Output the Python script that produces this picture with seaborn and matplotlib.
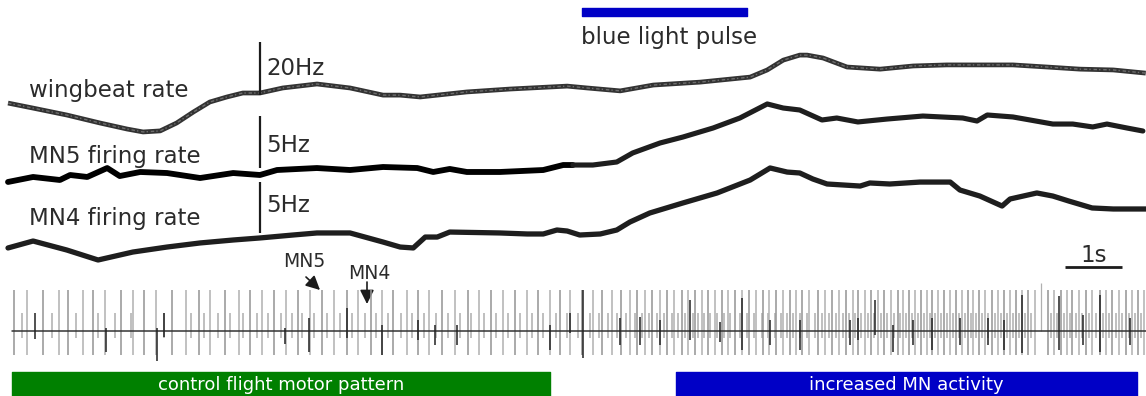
import numpy as np
import pandas as pd
import matplotlib
matplotlib.use("Agg")
import matplotlib.pyplot as plt
import seaborn as sns

# ---------------------------------------------------------------- data
# Instantaneous rates (time in s, rate in Hz)
wing_t = [-0.07, 0.37, 0.96, 1.54, 2.02, 2.30, 2.60, 2.89, 3.18, 3.47, 3.77, 4.05,
          4.35, 4.75, 5.35, 5.93, 6.51, 6.81, 7.16, 7.98, 8.74, 9.74, 10.09, 10.67,
          11.25, 12.07, 12.95, 13.25, 13.53, 13.82, 13.95, 14.23, 14.65, 15.23,
          15.81, 16.40, 17.56, 18.16, 18.74, 19.32, 19.89]
wing_hz = [196.2, 194.3, 191.7, 188.7, 186.4, 185.3, 185.7, 188.7, 192.8, 196.6,
           198.5, 200.0, 200.0, 201.9, 203.4, 201.9, 199.2, 199.2, 198.5, 200.4,
           201.5, 202.6, 201.9, 200.8, 203.0, 204.1, 206.0, 208.7, 212.4, 214.3,
           214.3, 213.2, 209.8, 209.0, 210.2, 210.6, 210.6, 209.8, 209.0, 208.7, 207.5]

mn5_t = [-0.07, 0.37, 0.84, 1.02, 1.32, 1.67, 1.89, 2.25, 2.72, 3.30, 3.88, 4.35,
         4.65, 5.35, 5.93, 6.51, 7.11, 7.39, 7.68, 7.98, 8.56, 9.32, 9.67, 9.84,
         10.19, 10.61, 10.89, 11.37, 11.77, 12.30, 12.77, 13.25, 13.53, 13.82,
         14.21, 14.47, 14.84, 15.35, 15.98, 16.68, 16.93, 17.11, 17.56, 17.86,
         18.26, 18.61, 18.96, 19.21, 19.56, 19.84]
mn5_hz = [4.33, 4.81, 4.52, 5.00, 4.81, 5.67, 4.90, 5.29, 5.19, 4.71, 5.19, 5.00,
          5.48, 5.67, 5.48, 5.77, 5.67, 5.29, 5.58, 5.29, 5.29, 5.48, 5.96, 5.96,
          5.96, 6.25, 7.12, 8.08, 8.65, 9.52, 10.48, 11.83, 11.44, 11.25,
          10.29, 10.48, 10.10, 10.38, 10.67, 10.48, 10.19, 10.77, 10.58, 10.29,
          9.90, 9.90, 9.62, 9.90, 9.52, 9.23]

mn4_t = [-0.07, 0.37, 0.96, 1.51, 2.12, 2.72, 3.30, 3.88, 4.35, 4.93, 5.35, 5.93,
         6.51, 6.81, 7.04, 7.25, 7.46, 7.68, 8.56, 9.04, 9.32, 9.56, 9.74, 9.96,
         10.32, 10.61, 10.84, 11.19, 11.77, 12.37, 12.95, 13.30, 13.60, 13.82,
         14.05, 14.30, 14.88, 15.05, 15.40, 15.93, 16.46, 16.63, 16.98, 17.37,
         17.51, 17.98, 18.26, 18.54, 18.95, 19.32, 19.89]
mn4_hz = [3.22, 3.90, 3.02, 2.04, 2.82, 3.31, 3.71, 4.00, 4.20, 4.49, 4.69, 4.69,
          3.80, 3.31, 3.22, 4.29, 4.29, 4.78, 4.69, 4.59, 4.59, 4.98, 4.88, 4.49,
          4.59, 4.98, 5.76, 6.65, 7.63, 8.61, 9.88, 11.06, 10.66, 10.57,
          9.98, 9.49, 9.29, 9.59, 9.49, 9.68, 9.68, 8.90, 8.31, 7.33,
          8.02, 8.61, 8.31, 7.82, 7.14, 7.04, 7.04]

# Extracellular recording: spike times (s) of the large units
large_spikes = [0.04, 0.26, 0.54, 0.82, 0.98, 1.25, 1.42, 1.63, 1.91, 2.12, 2.32,
                2.53, 2.81, 3.05, 3.28, 3.47, 3.74, 3.98, 4.18, 4.39, 4.60, 4.81,
                5.02, 5.23, 5.44, 5.65, 5.88, 6.07, 6.30, 6.49, 6.68, 6.93, 7.12,
                7.32, 7.54, 7.77, 8.00, 8.19, 8.40, 8.61, 8.82, 9.04, 9.23, 9.44,
                9.61, 9.79, 10.00, 10.19, 10.35, 10.53, 10.68, 10.84, 10.96, 11.11,
                11.23, 11.37, 11.49, 11.61, 11.75, 11.86, 11.98, 12.11, 12.21, 12.33,
                12.46, 12.56, 12.68, 12.81, 12.93, 13.05, 13.18, 13.28, 13.40, 13.53,
                13.65, 13.75, 13.86, 13.98, 14.14, 14.26, 14.39, 14.51, 14.63, 14.75,
                14.84, 14.96, 15.07, 15.19, 15.30, 15.42, 15.54, 15.63, 15.74, 15.84,
                15.95, 16.05, 16.14, 16.25, 16.35, 16.46, 16.56, 16.67, 16.77, 16.86,
                16.96, 17.07, 17.19, 17.30, 17.40, 17.51, 17.61, 17.72, 17.82, 17.95,
                18.18, 18.28, 18.40, 18.51, 18.60, 18.72, 18.84, 18.95, 19.09, 19.19,
                19.30, 19.42, 19.54, 19.65, 19.75, 19.86]
# small units
small_spikes = [0.18, 0.70, 1.12, 1.51, 1.81, 2.09, 2.67, 3.14, 3.37, 3.61, 3.82,
                4.05, 4.30, 4.49, 4.72, 4.91, 5.09, 5.30, 5.53, 5.75, 5.96, 6.19,
                6.39, 6.60, 6.82, 7.02, 7.23, 7.44, 7.65, 7.86, 8.05, 8.28, 8.49,
                8.70, 8.91, 9.12, 9.32, 9.54, 9.74, 9.93, 10.14, 10.30, 10.46, 10.61,
                10.77, 10.93, 11.05, 11.18, 11.32, 11.44, 11.58, 11.68, 11.81, 11.95,
                12.04, 12.14, 12.25, 12.37, 12.49, 12.60, 12.77, 12.89, 13.02, 13.16,
                13.26, 13.39, 13.49, 13.60, 13.70, 13.82, 13.95, 14.09, 14.21, 14.33,
                14.46, 14.58, 14.68, 14.79, 14.89, 15.02, 15.12, 15.25, 15.35, 15.47,
                15.58, 15.68, 15.79, 15.89, 16.00, 16.11, 16.19, 16.30, 16.40, 16.51,
                16.61, 16.72, 16.82, 16.91, 17.02, 17.12, 17.25, 17.35, 17.46, 17.56,
                17.67, 17.77, 17.88, 18.23, 18.33, 18.46, 18.56, 18.67, 18.77, 18.89,
                19.02, 19.14, 19.25, 19.37, 19.47, 19.60, 19.70, 19.81]
# single artefact transient
artefact_t = [18.05]
artefact_amp = [4.8]

# motor neuron spikes: time (s), positive and negative peak (a.u.)
mn_t = [0.40, 1.65, 2.54, 2.67, 4.79, 5.21, 5.88, 6.49, 7.12, 7.42, 7.81, 9.44,
        9.79, 10.02, 10.67, 11.02, 11.37, 11.89, 12.42, 12.81, 13.30, 13.82,
        14.70, 14.84, 15.14, 15.46, 15.81, 16.14, 16.63, 17.12, 17.40, 17.72,
        18.37, 18.79, 19.09, 19.61]
mn_up = [1.8, 0.3, 0.3, 1.8, 0.3, 1.3, 2.3, 0.6, 1.1, 0.6, 0.6, 0.6,
         1.8, 4.1, 1.3, 1.4, 1.1, 3.1, 0.9, 3.3, 1.1, 1.1,
         1.1, 1.3, 3.1, 0.6, 1.1, 1.3, 1.3, 1.3, 1.1, 3.6,
         3.5, 1.6, 3.6, 1.3]
mn_down = [-0.8, -2.1, -3.0, -0.6, -1.3, -2.1, -0.7, -2.4, -0.9, -1.4, -1.4, -1.9,
           -0.2, -2.7, -1.4, -1.4, -1.4, -0.9, -1.1, -1.9, -1.4, -1.9,
           -1.4, -0.9, -0.4, -2.1, -1.4, -1.9, -1.4, -1.4, -1.9, -2.2,
           -1.9, -1.4, -2.1, -1.4]

large_amp = (4.1, -2.4)
small_amp = (1.8, -0.7)
trace_span = (0.0, 19.9)

# Epochs (s)
light_pulse = (10.0, 12.9)
epochs = [("control flight motor pattern", 0.0, 9.44, "#008000"),
          ("increased MN activity", 11.65, 19.74, "#0000c6")]

# Calibration bars
cal_t = 4.35
wing_cal = (199.2, 219.2)   # 20 Hz
mn5_cal = (5.7, 10.7)       # 5 Hz
mn4_cal = (4.7, 9.7)        # 5 Hz
time_cal = (18.47, 19.47)   # 1 s

# ---------------------------------------------------------------- figure
sns.set_theme(style="white")
plt.rcParams["font.family"] = ["DejaVu Sans"]

W, H = 1146, 396
PX_PER_S = 57.0
X_ORIGIN = 12.0
fig = plt.figure(figsize=(W / 100, H / 100), dpi=100)
fig.patch.set_facecolor("white")

base = fig.add_axes([0, 0, 1, 1])
base.set_xlim(-X_ORIGIN / PX_PER_S, (W - X_ORIGIN) / PX_PER_S)
base.set_ylim(H, 0)
base.axis("off")


def overlay(ref_val, ref_row, rows_per_unit):
    """Transparent axis sharing time, with its own vertical scale."""
    ax = fig.add_axes([0, 0, 1, 1], sharex=base)
    ax.set_ylim(ref_val - (H - ref_row) / rows_per_unit,
                ref_val + ref_row / rows_per_unit)
    ax.axis("off")
    ax.patch.set_alpha(0)
    return ax


TXT = "#2b2b2b"
INK = "#1c1c1c"

# --- wingbeat rate
ax_w = overlay(200.0, 93, 53 / 20)
dw = pd.DataFrame({"t": wing_t, "hz": wing_hz})
sns.lineplot(data=dw, x="t", y="hz", ax=ax_w, color="#333333", linewidth=3.4,
             sort=False, estimator=None, solid_capstyle="butt")
sns.lineplot(data=dw, x="t", y="hz", ax=ax_w, color="#6e6e6e", linewidth=1.0,
             sort=False, estimator=None)
ax_w.lines[-1].set_dashes([2.5, 1.5, 1, 2])
ax_w.plot([cal_t, cal_t], wing_cal, color=INK, lw=1.6, solid_capstyle="butt")

# --- MN5 firing rate
ax5 = overlay(5.0, 175, 52 / 5)
d5 = pd.DataFrame({"t": mn5_t, "hz": mn5_hz})
split5 = 24
sns.lineplot(data=d5.iloc[:split5], x="t", y="hz", ax=ax5, color="#000000",
             linewidth=4.2, sort=False, estimator=None)
sns.lineplot(data=d5.iloc[split5 - 1:], x="t", y="hz", ax=ax5, color="#1e1e1e",
             linewidth=3.7, sort=False, estimator=None)
ax5.plot([cal_t, cal_t], mn5_cal, color=INK, lw=1.6, solid_capstyle="butt")

# --- MN4 firing rate
ax4 = overlay(4.0, 240, 51 / 5)
d4 = pd.DataFrame({"t": mn4_t, "hz": mn4_hz})
sns.lineplot(data=d4, x="t", y="hz", ax=ax4, color="#1e1e1e", linewidth=3.8,
             sort=False, estimator=None)
ax4.plot([cal_t, cal_t], mn4_cal, color=INK, lw=1.6, solid_capstyle="butt")

# --- extracellular trace
ax_s = overlay(0.0, 331, 10)
ax_s.plot(trace_span, [0, 0], color="#333333", lw=1.1, zorder=4)
ax_s.vlines(small_spikes, small_amp[1], small_amp[0], color="#adadad", lw=1.1, zorder=1)
large_cols = ["#979797", "#b3b3b3"] * (len(large_spikes) // 2 + 1)
ax_s.vlines(large_spikes, large_amp[1], large_amp[0],
            colors=large_cols[:len(large_spikes)], lw=1.15, zorder=2)
ax_s.vlines(artefact_t, 0, artefact_amp, color="#b0b0b0", lw=0.9, zorder=2)
ax_s.vlines(mn_t, mn_down, mn_up, color="#222222", lw=1.1, zorder=5)

# --- epochs, stimulus and time scale
lp0, lp1 = light_pulse
base.broken_barh([(lp0, lp1 - lp0)], (8, 7.5), color="#0000c6")
for label, e0, e1, col in epochs:
    base.broken_barh([(e0, e1 - e0)], (372, 30), color=col)
    base.text((e0 + e1) / 2, 385, label, color="white", fontsize=13,
              ha="center", va="center")
base.plot(time_cal, [267, 267], color=INK, lw=2.0, solid_capstyle="butt")
base.text(sum(time_cal) / 2, 262, "1s", color=TXT, fontsize=16.5,
          ha="center", va="baseline")


# --- labels
def t_of(px):
    return (px - X_ORIGIN) / PX_PER_S


labels = [("wingbeat rate", 29, 97), ("MN5 firing rate", 29, 163),
          ("MN4 firing rate", 29, 225), ("20Hz", 266, 75), ("5Hz", 266, 152),
          ("5Hz", 266, 212), ("blue light pulse", 581, 44)]
for s, px, row in labels:
    base.text(t_of(px), row, s, color=TXT, fontsize=16.5, ha="left", va="baseline")

base.text(t_of(283), 267, "MN5", color=TXT, fontsize=13.5, ha="left", va="baseline")
base.text(t_of(348), 279, "MN4", color=TXT, fontsize=13.5, ha="left", va="baseline")
arrow = dict(arrowstyle="-|>,head_length=0.7,head_width=0.35", color=INK, lw=1.2,
             shrinkA=0, shrinkB=0)
base.annotate("", xy=(t_of(320), 290), xytext=(t_of(306), 277), arrowprops=arrow)
base.annotate("", xy=(t_of(367), 304), xytext=(t_of(367), 282), arrowprops=arrow)

fig.savefig("out.png", dpi=100, facecolor="white")
